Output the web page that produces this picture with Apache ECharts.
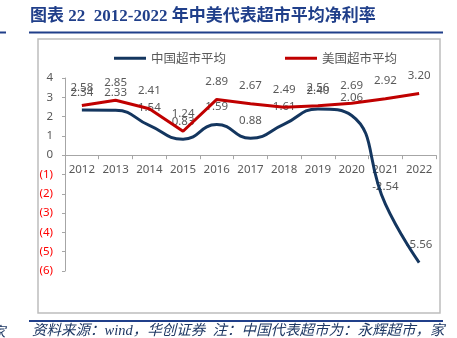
<!DOCTYPE html>
<html>
<head>
<meta charset="utf-8">
<script src="https://cdn.jsdelivr.net/npm/echarts@6/dist/echarts.min.js"></script>
<style>
  html, body { margin: 0; padding: 0; background: #fff; }
  #chart { width: 457px; height: 338px; }
</style>
</head>
<body>
<div id="chart"></div>
<script>
// Years on the category axis
const years = ['2012', '2013', '2014', '2015', '2016', '2017', '2018', '2019', '2020', '2021', '2022'];
// Average net margin (%), Chinese supermarkets
const chinaMargin = [2.34, 2.33, 1.54, 0.83, 1.59, 0.88, 1.61, 2.40, 2.06, -2.54, -5.56];
// Average net margin (%), US supermarkets
const usMargin = [2.58, 2.85, 2.41, 1.24, 2.89, 2.67, 2.49, 2.56, 2.69, 2.92, 3.20];
// Value-axis range
const yMin = -6, yMax = 4, yStep = 1;

const titleText = '图表 22  2012-2022 年中美代表超市平均净利率';
const sourceText = '资料来源：wind，华创证券  注：中国代表超市为：永辉超市，家';

const blue = '#14365F';
const red = '#C00000';
const gray = '#595959';
const axisGray = '#A6A6A6';
const navy = '#203F8A';
const numFont = "'Noto Sans', 'Noto Sans CJK SC', sans-serif";

// Plot box
const gridTop = 78, gridBottom = 67, chartH = 338;
const plotH = chartH - gridTop - gridBottom;
// Lift the category axis from the plot bottom up to the zero line
const zeroOffset = -plotH * (0 - yMin) / (yMax - yMin);

const chart = echarts.init(document.getElementById('chart'), null, { renderer: 'canvas' });

// Labels live on their own series underneath so the lines cross over them
function labelSeries(name, data) {
  return {
    name: name,
    type: 'line',
    data: data,
    z: 1,
    silent: true,
    symbol: 'circle',
    symbolSize: 0.1,
    itemStyle: { color: 'rgba(0,0,0,0)' },
    lineStyle: { width: 0, opacity: 0 },
    label: {
      show: true,
      position: 'top',
      distance: 12,
      color: gray,
      fontSize: 11.5,
      fontFamily: numFont,
      formatter: p => p.value.toFixed(2)
    },
    emphasis: { disabled: true },
    animation: false
  };
}

chart.setOption({
  animation: false,
  backgroundColor: '#fff',
  grid: { left: 65, right: 21, top: gridTop, bottom: gridBottom, containLabel: false },
  legend: {
    data: [
      { name: '中国超市平均', icon: 'rect' },
      { name: '美国超市平均', icon: 'rect' }
    ],
    left: 109,
    top: 47,
    itemWidth: 32,
    itemHeight: 3,
    itemGap: 59,
    textStyle: { color: gray, fontSize: 12.5, fontFamily: "'Noto Sans CJK SC', sans-serif" },
    selectedMode: false
  },
  xAxis: {
    type: 'category',
    data: years,
    boundaryGap: true,
    position: 'bottom',
    offset: zeroOffset,
    axisLine: { onZero: false, lineStyle: { color: axisGray, width: 1 } },
    axisTick: { show: true, length: 4, alignWithLabel: false, interval: 0, lineStyle: { color: axisGray } },
    axisLabel: { color: gray, fontSize: 11.5, fontFamily: numFont, margin: 9, interval: 0 },
    splitLine: { show: false }
  },
  yAxis: {
    type: 'value',
    min: yMin,
    max: yMax,
    interval: yStep,
    axisLine: { show: true, lineStyle: { color: axisGray, width: 1 } },
    axisTick: { show: true, length: 3, lineStyle: { color: axisGray } },
    splitLine: { show: false },
    axisLabel: {
      margin: 12,
      formatter: v => v < 0 ? '{n|(' + (-v) + ')}' : '{p|' + v + '}',
      rich: {
        p: { color: gray, fontSize: 11.5, fontFamily: numFont },
        n: { color: '#FF0000', fontSize: 11.5, fontFamily: numFont }
      }
    }
  },
  series: [
    labelSeries('china-labels', chinaMargin),
    labelSeries('us-labels', usMargin),
    {
      name: '中国超市平均',
      type: 'line',
      data: chinaMargin,
      z: 3,
      smooth: 0.5,
      symbol: 'none',
      itemStyle: { color: blue },
      lineStyle: { color: blue, width: 3 }
    },
    {
      name: '美国超市平均',
      type: 'line',
      data: usMargin,
      z: 3,
      smooth: false,
      symbol: 'none',
      itemStyle: { color: red },
      lineStyle: { color: red, width: 3 }
    }
  ],
  graphic: [
    // Page heading and its rule
    {
      type: 'text', left: 30, top: 8,
      style: {
        text: titleText, fill: navy,
        font: "bold 17px 'Liberation Serif', 'Noto Sans CJK SC', serif"
      }
    },
    { type: 'rect', shape: { x: 29, y: 31.5, width: 414, height: 2 }, style: { fill: navy } },
    { type: 'rect', shape: { x: 0, y: 31.5, width: 6, height: 2 }, style: { fill: navy } },
    // Chart frame
    {
      type: 'rect', z: -1,
      shape: { x: 38, y: 39, width: 402, height: 274 },
      style: { fill: 'none', stroke: '#BDBDBD', lineWidth: 1.5 }
    },
    // Source line and its rule
    { type: 'rect', shape: { x: 29, y: 320, width: 414, height: 2 }, style: { fill: navy } },
    {
      type: 'text', left: 32, top: 324,
      style: {
        text: sourceText, fill: '#1F3864',
        font: "italic 14.5px 'Liberation Serif', 'Noto Sans CJK SC', serif"
      }
    },
    {
      type: 'text', left: -9, top: 324,
      style: {
        text: '家', fill: '#1F3864',
        font: "italic 14.5px 'Noto Sans CJK SC', serif"
      }
    }
  ]
});
</script>
</body>
</html>
